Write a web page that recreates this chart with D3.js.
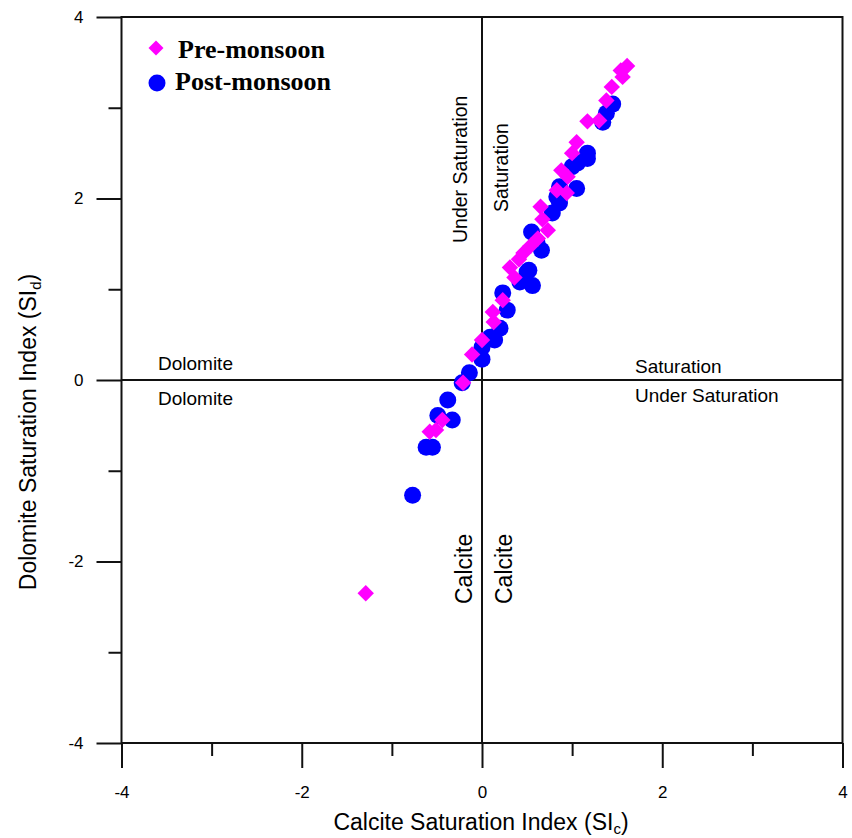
<!DOCTYPE html>
<html>
<head>
<meta charset="utf-8">
<script src="https://cdn.jsdelivr.net/npm/d3@7"></script>
<style>
  body { margin: 0; background: #fff; }
  svg { display: block; }
  .ann { font-family: "Liberation Sans", Arial, sans-serif; fill: #000; }
</style>
</head>
<body>
<svg id="chart" width="852" height="838"></svg>
<script>
// Pre-monsoon: calcite SI (x) and dolomite SI (y)
const preSIc = [1.61, 1.54, 1.56, 1.44, 1.38, 1.30, 1.17, 1.05, 1.00, 0.88, 0.95, 0.83, 0.94, 0.65, 0.67, 0.73,
  0.62, 0.54, 0.46, 0.41, 0.31, 0.36, 0.23, 0.12, 0.13, 0.00, -0.11, -0.21, -0.44, -0.51, -0.58, -1.29];
const preSId = [3.46, 3.41, 3.34, 3.23, 3.08, 2.86, 2.85, 2.62, 2.50, 2.31, 2.24, 2.09, 2.06, 1.91, 1.77, 1.65,
  1.56, 1.48, 1.40, 1.33, 1.24, 1.13, 0.88, 0.75, 0.64, 0.44, 0.28, -0.03, -0.44, -0.55, -0.57, -2.35];

// Post-monsoon
const postSIc = [1.45, 1.38, 1.34, 1.17, 1.17, 1.06, 1.00, 1.05, 0.86, 0.83, 0.86, 0.78, 0.55, 0.61, 0.66, 0.52,
  0.50, 0.56, 0.42, 0.23, 0.28, 0.20, 0.14, 0.09, 0.00, 0.00, -0.14, -0.22, -0.38, -0.49, -0.33, -0.62, -0.55, -0.77];
const postSId = [3.04, 2.94, 2.84, 2.50, 2.44, 2.39, 2.35, 2.11, 2.13, 2.02, 1.95, 1.84, 1.63, 1.51, 1.43, 1.21,
  1.19, 1.04, 1.08, 0.96, 0.77, 0.57, 0.44, 0.47, 0.36, 0.23, 0.08, -0.03, -0.22, -0.39, -0.44, -0.74, -0.74, -1.27];

const majorTicks = [-4, -2, 0, 2, 4];
const minorTicks = [-3, -1, 1, 3];
const tickLabels = ["-4", "-2", "0", "2", "4"];

const svg = d3.select("#chart");
const x = d3.scaleLinear().domain([-4, 4]).range([121.5, 842.5]);
const y = d3.scaleLinear().domain([-4, 4]).range([743, 17]);

const fmt = d => tickLabels[majorTicks.indexOf(d)];

function styleAxis(g) {
  g.select(".domain").remove();
  g.selectAll("line").attr("stroke", "#111").attr("stroke-width", 2);
  g.selectAll("text")
    .attr("fill", "#000")
    .style("font-family", "'Liberation Sans', Arial, sans-serif")
    .style("font-size", "17px");
}

// minor ticks
svg.append("g").attr("transform", `translate(0,${y(-4)})`)
  .call(d3.axisBottom(x).tickValues(minorTicks).tickSize(13).tickFormat(""))
  .call(styleAxis);
svg.append("g").attr("transform", `translate(${x(-4)},0)`)
  .call(d3.axisLeft(y).tickValues(minorTicks).tickSize(13).tickFormat(""))
  .call(styleAxis);

// major ticks with labels
svg.append("g").attr("transform", `translate(0,${y(-4)})`)
  .call(d3.axisBottom(x).tickValues(majorTicks).tickSize(25).tickPadding(18).tickFormat(fmt))
  .call(styleAxis);
svg.append("g").attr("transform", `translate(${x(-4)},0)`)
  .call(d3.axisLeft(y).tickValues(majorTicks).tickSize(25).tickPadding(13).tickFormat(fmt))
  .call(styleAxis);

// frame and zero lines
svg.append("rect")
  .attr("x", x(-4)).attr("y", y(4))
  .attr("width", x(4) - x(-4)).attr("height", y(-4) - y(4))
  .attr("fill", "none").attr("stroke", "#111").attr("stroke-width", 2);
svg.append("line")
  .attr("x1", x(-4)).attr("x2", x(4)).attr("y1", y(0)).attr("y2", y(0))
  .attr("stroke", "#111").attr("stroke-width", 2);
svg.append("line")
  .attr("x1", x(0)).attr("x2", x(0)).attr("y1", y(4)).attr("y2", y(-4))
  .attr("stroke", "#111").attr("stroke-width", 2);

// annotations
const ann = svg.append("g").attr("class", "ann");
ann.append("text").attr("x", 158).attr("y", 370).style("font-size", "19px").text("Dolomite");
ann.append("text").attr("x", 158).attr("y", 405).style("font-size", "19px").text("Dolomite");
ann.append("text").attr("x", 635).attr("y", 373).style("font-size", "19px").text("Saturation");
ann.append("text").attr("x", 635).attr("y", 402).style("font-size", "19px").text("Under Saturation");
ann.append("text").attr("transform", "translate(467,243) rotate(-90)").style("font-size", "19.5px").text("Under Saturation");
ann.append("text").attr("transform", "translate(508,212) rotate(-90)").style("font-size", "19.5px").text("Saturation");
ann.append("text").attr("transform", "translate(472,604) rotate(-90)").style("font-size", "23px").text("Calcite");
ann.append("text").attr("transform", "translate(512,604) rotate(-90)").style("font-size", "23px").text("Calcite");

// axis titles
const xt = ann.append("text").attr("x", 481).attr("y", 830).attr("text-anchor", "middle").style("font-size", "23px");
xt.append("tspan").text("Calcite Saturation Index (SI");
xt.append("tspan").attr("dy", 4).style("font-size", "15px").text("c");
xt.append("tspan").attr("dy", -4).text(")");

const yt = ann.append("text").attr("transform", "translate(36,432) rotate(-90)").attr("text-anchor", "middle").style("font-size", "23px");
yt.append("tspan").text("Dolomite Saturation Index (SI");
yt.append("tspan").attr("dy", 5).style("font-size", "15px").text("d");
yt.append("tspan").attr("dy", -5).text(")");

// points
const post = postSIc.map((v, i) => ({ x: v, y: postSId[i] }));
const pre = preSIc.map((v, i) => ({ x: v, y: preSId[i] }));

svg.append("g").selectAll("circle")
  .data(post)
  .enter()
  .append("circle")
  .attr("cx", d => x(d.x))
  .attr("cy", d => y(d.y))
  .attr("r", 8.5)
  .attr("fill", "#0000ff");

const diamond = d3.symbol().type(d3.symbolSquare).size(135);
svg.append("g").selectAll("path")
  .data(pre)
  .enter()
  .append("path")
  .attr("d", diamond)
  .attr("transform", d => `translate(${x(d.x)},${y(d.y)}) rotate(45)`)
  .attr("fill", "#ff00ff");

// legend
const legendDiamond = d3.symbol().type(d3.symbolSquare).size(112);
const leg = svg.append("g");
leg.append("path").attr("d", legendDiamond).attr("transform", "translate(156,48) rotate(45)").attr("fill", "#ff00ff");
leg.append("circle").attr("cx", 157).attr("cy", 83).attr("r", 8.5).attr("fill", "#0000ff");
leg.append("text").attr("x", 178).attr("y", 58)
  .style("font-family", "'Liberation Serif', 'Times New Roman', serif")
  .style("font-weight", "bold").style("font-size", "26px").text("Pre-monsoon");
leg.append("text").attr("x", 175).attr("y", 90)
  .style("font-family", "'Liberation Serif', 'Times New Roman', serif")
  .style("font-weight", "bold").style("font-size", "26px").text("Post-monsoon");
</script>
</body>
</html>
